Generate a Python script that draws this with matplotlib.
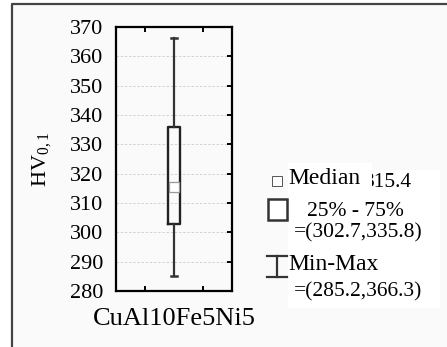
import matplotlib
matplotlib.use("Agg")
import matplotlib.pyplot as plt
from matplotlib.patches import Rectangle
from matplotlib.lines import Line2D

# data
groups = ["CuAl10Fe5Ni5"]
medians = [315.4]
q1s = [302.7]
q3s = [335.8]
mins = [285.2]
maxs = [366.3]
y_ticks = [280, 290, 300, 310, 320, 330, 340, 350, 360, 370]

plt.rcParams["font.family"] = ["Liberation Serif", "DejaVu Serif"]
plt.rcParams["mathtext.fontset"] = "custom"
plt.rcParams["mathtext.rm"] = "Liberation Serif"
plt.rcParams["mathtext.it"] = "Liberation Serif"

W, H = 447, 347
fig = plt.figure(figsize=(W / 100, H / 100), dpi=100, facecolor="white")


def fx(x):
    return x / W


def fy(y):
    return 1 - y / H


# light panel with frame on top / left
fig.patches.append(Rectangle((fx(12), 0), 1 - fx(12), fy(4), transform=fig.transFigure,
                             facecolor="#fafafa", edgecolor="none", zorder=-5))
fig.lines.append(Line2D([fx(12), fx(12), 1], [0, fy(4), fy(4)], transform=fig.transFigure,
                        color="#444444", lw=1.6, zorder=-4))

ax = fig.add_axes([fx(116), fy(291), fx(232) - fx(116), fy(27) - fy(291)])
ax.set_facecolor("#fafafa")

stats = []
for name, med, q1, q3, lo, hi in zip(groups, medians, q1s, q3s, mins, maxs):
    stats.append({"label": name, "med": med, "q1": q1, "q3": q3,
                  "whislo": lo, "whishi": hi, "fliers": []})

ax.bxp(stats, positions=[0], widths=0.41, capwidths=0.24, showfliers=False,
       boxprops=dict(color="#222222", lw=1.7),
       whiskerprops=dict(color="#333333", lw=1.6),
       capprops=dict(color="#333333", lw=1.8),
       medianprops=dict(lw=0, color="none"))
ax.plot([0], medians, marker="s", ms=7, mfc="white", mec="#999999", mew=0.9, ls="none", zorder=5)

ax.set_xlim(-2, 2)
ax.set_ylim(280, 370)
ax.set_yticks(y_ticks)
ax.set_xticks([0])
ax.set_xticklabels(groups, fontsize=19)
ax.set_xticks([-1, 0, 1], minor=True)
ax.tick_params(axis="x", which="major", length=0, pad=12)
ax.tick_params(axis="x", which="minor", direction="in", top=True, bottom=True, length=3.5, width=1.4)
ax.tick_params(axis="y", direction="in", left=False, right=True, length=3.5, width=1.4,
               labelsize=16, pad=9)
ax.grid(axis="y", color="#cccccc", ls=(0, (3, 2)), lw=0.6)
ax.set_axisbelow(True)
for s in ax.spines.values():
    s.set_linewidth(1.6)
ax.set_ylabel(r"HV$_{0,1}$", fontsize=16, labelpad=12)

# legend
fig.patches.append(Rectangle((fx(288), fy(308)), fx(440) - fx(288), fy(170) - fy(308),
                             transform=fig.transFigure, facecolor="white", edgecolor="none", zorder=1))
fig.text(fx(364), fy(182.5), f"{medians[0]:.1f}", fontsize=15.5, va="center", ha="left", zorder=2)
fig.patches.append(Rectangle((fx(288), fy(190)), fx(372) - fx(288), fy(163) - fy(190),
                             transform=fig.transFigure, facecolor="white", edgecolor="none", zorder=2.5))
fig.text(fx(288), fy(179), "Median", fontsize=17, va="center", ha="left", zorder=3)
fig.patches.append(Rectangle((fx(272), fy(185.5)), fx(10), fx(10) * W / H,
                             transform=fig.transFigure, facecolor="white", edgecolor="#555555",
                             lw=0.7, zorder=3))
fig.patches.append(Rectangle((fx(267.5), fy(219.5)), fx(19), fx(21) * W / H,
                             transform=fig.transFigure, facecolor="white", edgecolor="#333333",
                             lw=1.8, zorder=3))
fig.text(fx(355), fy(211), "25% - 75%", fontsize=15.5, va="center", ha="center", zorder=3)
fig.text(fx(294), fy(233), f"=({q1s[0]:.1f},{q3s[0]:.1f})", fontsize=15.5, va="center", ha="left", zorder=3)
fig.lines.append(Line2D([fx(277), fx(277)], [fy(256), fy(277)], transform=fig.transFigure,
                        color="#333333", lw=1.6, zorder=3))
fig.lines.append(Line2D([fx(267), fx(287)], [fy(256), fy(256)], transform=fig.transFigure,
                        color="#333333", lw=1.6, zorder=3))
fig.lines.append(Line2D([fx(267), fx(287)], [fy(277), fy(277)], transform=fig.transFigure,
                        color="#333333", lw=1.6, zorder=3))
fig.text(fx(288), fy(265), "Min-Max", fontsize=17, va="center", ha="left", zorder=3)
fig.text(fx(294), fy(291.5), f"=({mins[0]:.1f},{maxs[0]:.1f})", fontsize=15.5, va="center", ha="left", zorder=3)

fig.savefig("out.png", dpi=100, facecolor=fig.get_facecolor())
